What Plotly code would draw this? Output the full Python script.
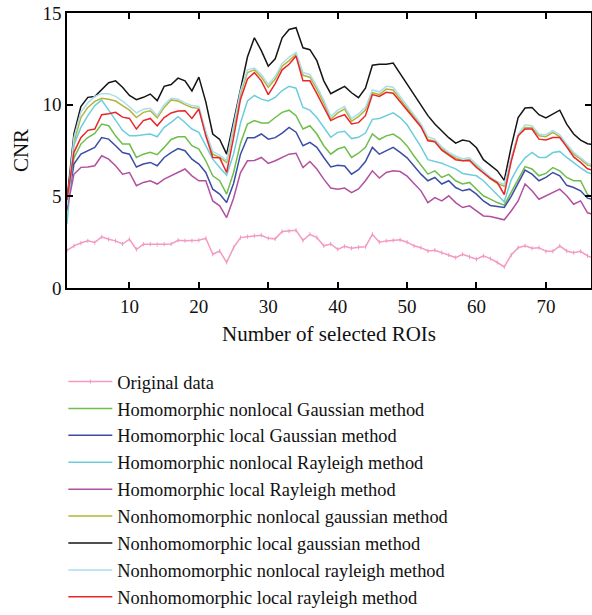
import plotly.graph_objects as go

x_roi = list(range(1, 78))

original = [2.05, 2.3, 2.45, 2.57, 2.48, 2.79, 2.66, 2.57, 2.4, 2.66,
            2.1, 2.39, 2.39, 2.37, 2.39, 2.4, 2.6, 2.58, 2.58, 2.6,
            2.71, 1.84, 2.02, 1.4, 2.2, 2.75, 2.8, 2.85, 2.88, 2.71,
            2.68, 3.08, 3.1, 3.15, 2.6, 2.93, 2.75, 2.3, 2.4, 2.11,
            2.27, 2.17, 2.22, 2.25, 2.93, 2.5, 2.57, 2.6, 2.63, 2.5,
            2.3, 2.2, 2.02, 2.06, 1.93, 1.8, 1.66, 1.84, 1.7, 1.57,
            1.75, 1.6, 1.39, 1.15, 1.8, 2.2, 2.3, 2.17, 2.2, 2.0,
            2.0, 2.3, 2.02, 1.93, 2.0, 1.75, 1.6]

h_nonlocal_gauss = [4.2, 7.1, 7.85, 8.21, 8.43, 8.94, 8.85, 8.3, 7.85, 7.85,
                    7.12, 7.3, 7.4, 7.27, 7.67, 8.1, 8.25, 8.25, 7.76, 7.58,
                    6.94, 6.12, 5.85, 5.12, 6.3, 7.9, 8.94, 9.13, 9.0, 9.0,
                    9.3, 9.58, 9.7, 9.4, 8.67, 8.85, 8.4, 7.76, 7.3, 7.58,
                    7.7, 7.12, 7.35, 7.67, 8.4, 8.1, 8.3, 8.4, 8.15, 7.75,
                    7.2, 6.7, 6.21, 6.39, 6.03, 6.2, 5.85, 5.67, 5.76, 5.39,
                    5.03, 4.85, 4.66, 4.52, 5.2, 5.9, 6.62, 6.49, 6.12, 6.25,
                    6.57, 6.39, 6.03, 5.85, 5.85, 5.1, 4.9]

h_local_gauss = [4.4, 6.76, 7.3, 7.49, 7.67, 8.21, 8.12, 7.76, 7.39, 7.3,
                 6.6, 6.76, 6.85, 6.67, 7.12, 7.39, 7.61, 7.49, 7.03, 6.76,
                 6.3, 5.39, 5.12, 4.66, 5.7, 7.3, 8.2, 8.2, 8.4, 8.12,
                 8.2, 8.45, 8.76, 8.5, 7.76, 7.94, 7.67, 7.12, 6.6, 6.7,
                 6.65, 6.21, 6.45, 6.9, 7.67, 7.3, 7.49, 7.67, 7.4, 7.1,
                 6.65, 6.21, 5.85, 6.03, 5.67, 5.85, 5.48, 5.3, 5.39, 5.12,
                 4.75, 4.5, 4.45, 4.39, 5.0, 5.7, 6.43, 6.21, 5.85, 6.03,
                 6.3, 6.12, 5.6, 5.48, 5.3, 4.9, 4.8]

h_nonlocal_rayl = [3.5, 7.8, 8.76, 9.4, 9.95, 10.25, 9.7, 9.13, 8.6, 8.3,
                   8.3, 8.36, 8.4, 8.25, 8.76, 9.03, 9.34, 9.03, 8.67, 8.49,
                   7.76, 7.03, 6.57, 6.15, 7.3, 9.0, 10.2, 10.5, 10.3, 10.2,
                   10.4, 10.77, 11.0, 10.9, 9.85, 9.7, 9.3, 8.73, 8.22, 8.49,
                   8.55, 8.15, 8.22, 8.45, 9.2, 9.25, 9.4, 9.55, 9.3, 8.9,
                   8.3, 7.7, 7.0, 6.9, 6.8, 6.65, 6.5, 6.25, 6.2, 6.12,
                   5.85, 5.45, 5.07, 4.7, 5.9, 6.6, 7.1, 7.4, 7.12, 7.12,
                   7.39, 7.45, 7.12, 6.82, 6.55, 6.3, 6.2]

h_local_rayl = [4.3, 6.2, 6.58, 6.6, 6.67, 7.21, 7.03, 6.67, 6.21, 6.3,
                5.58, 5.76, 5.85, 5.67, 5.94, 6.12, 6.3, 6.49, 6.12, 5.85,
                5.85, 4.75, 4.48, 3.84, 4.9, 6.3, 6.94, 6.96, 7.12, 6.8,
                6.94, 7.12, 7.3, 7.35, 6.57, 6.9, 6.49, 5.94, 5.45, 5.39,
                5.45, 5.2, 5.4, 5.85, 6.39, 6.0, 6.3, 6.39, 6.35, 6.1,
                5.7, 5.3, 4.66, 4.93, 4.75, 5.03, 4.66, 4.39, 4.48, 4.2,
                3.93, 3.9, 3.8, 3.72, 4.2, 4.75, 5.67, 5.3, 4.84, 5.03,
                5.21, 5.39, 5.03, 4.57, 4.75, 4.1, 4.0]

nh_nonlocal_gauss = [4.6, 7.95, 9.3, 9.85, 10.18, 10.35, 10.3, 10.2, 9.95, 9.7,
                     9.3, 9.58, 9.67, 9.28, 9.85, 10.26, 10.2, 10.0, 9.85, 9.8,
                     8.4, 7.3, 7.12, 6.85, 8.7, 10.6, 11.75, 11.9, 11.5, 10.95,
                     11.4, 12.1, 12.4, 12.75, 11.6, 11.5, 10.85, 10.1, 9.2, 9.55,
                     9.76, 9.1, 9.35, 9.7, 10.65, 10.55, 10.85, 10.8, 10.3, 9.8,
                     9.3, 8.85, 8.1, 8.0, 7.6, 7.3, 7.1, 6.95, 7.0, 6.65,
                     6.3, 5.95, 5.7, 5.55, 7.0, 8.3, 8.76, 8.74, 8.3, 8.25,
                     8.49, 8.25, 7.76, 7.3, 7.03, 6.7, 6.6]

nh_local_gauss = [4.8, 8.4, 9.9, 10.4, 10.45, 10.85, 11.2, 11.3, 10.95, 10.5,
                  10.27, 10.4, 10.58, 10.22, 11.0, 11.1, 11.45, 11.3, 10.75, 11.5,
                  10.15, 8.4, 8.1, 7.3, 9.1, 10.9, 12.6, 13.65, 12.95, 12.1,
                  12.5, 13.65, 14.1, 14.2, 13.1, 13.0, 12.4, 11.3, 10.6, 10.8,
                  11.0, 10.65, 10.38, 10.9, 12.15, 12.2, 12.2, 12.27, 11.7, 11.1,
                  10.5, 9.95, 9.4, 8.95, 8.55, 8.2, 7.9, 8.07, 8.0, 7.65,
                  7.0, 6.7, 6.4, 5.87, 7.7, 9.3, 9.82, 9.85, 9.45, 9.28,
                  9.47, 9.7, 8.94, 8.4, 8.07, 7.87, 7.8]

nh_nonlocal_rayl = [4.5, 8.2, 9.6, 10.1, 10.45, 10.6, 10.6, 10.45, 10.2, 9.9,
                    9.55, 9.75, 9.8, 9.4, 10.0, 10.35, 10.3, 10.1, 9.95, 9.9,
                    8.55, 7.45, 7.25, 6.95, 8.85, 10.75, 11.9, 12.0, 11.65, 11.1,
                    11.55, 12.25, 12.6, 12.85, 11.75, 11.65, 11.0, 10.25, 9.35, 9.7,
                    9.9, 9.25, 9.5, 9.85, 10.8, 10.7, 11.0, 10.95, 10.45, 9.95,
                    9.45, 8.95, 8.25, 8.1, 7.7, 7.4, 7.2, 7.05, 7.1, 6.75,
                    6.4, 6.05, 5.8, 5.65, 7.1, 8.4, 8.9, 8.85, 8.4, 8.35,
                    8.6, 8.35, 7.85, 7.4, 7.1, 6.8, 6.7]

nh_local_rayl = [4.8, 7.4, 8.2, 8.6, 8.67, 9.45, 9.5, 9.58, 9.32, 9.25,
                 8.67, 9.13, 9.25, 8.85, 9.3, 9.55, 9.65, 9.67, 9.25, 9.76,
                 8.3, 7.12, 7.1, 6.3, 8.2, 10.3, 11.4, 11.75, 11.3, 10.55,
                 11.15, 11.9, 12.2, 12.65, 11.3, 11.3, 10.6, 9.85, 9.13, 9.32,
                 9.45, 8.95, 9.02, 9.4, 10.55, 10.45, 10.67, 10.62, 10.15, 9.7,
                 9.2, 8.78, 8.03, 7.98, 7.52, 7.25, 7.0, 6.94, 6.95, 6.57,
                 6.25, 5.98, 5.75, 5.1, 6.9, 8.3, 8.67, 8.67, 8.12, 8.07,
                 8.21, 8.21, 7.7, 7.15, 6.85, 6.5, 6.4]

series_names = [
    "Original data",
    "Homomorphic nonlocal Gaussian method",
    "Homomorphic local Gaussian method",
    "Homomorphic nonlocal Rayleigh method",
    "Homomorphic local Rayleigh method",
    "Nonhomomorphic nonlocal gaussian method",
    "Nonhomomorphic local gaussian method",
    "Nonhomomorphic nonlocal rayleigh method",
    "Nonhomomorphic local rayleigh method",
]
series_values = [original, h_nonlocal_gauss, h_local_gauss, h_nonlocal_rayl,
                 h_local_rayl, nh_nonlocal_gauss, nh_local_gauss,
                 nh_nonlocal_rayl, nh_local_rayl]
series_colors = ["#F39AC2", "#6DBE4B", "#3B4DA6", "#6CCEDD", "#B2509F",
                 "#B4B535", "#151515", "#AADDF0", "#E8262B"]

fig = go.Figure()
for name, vals, col in zip(series_names, series_values, series_colors):
    is_orig = name == "Original data"
    fig.add_trace(go.Scatter(
        x=x_roi, y=vals, name=name,
        mode="lines+markers" if is_orig else "lines",
        line=dict(color=col, width=1.5),
        marker=dict(size=3, color=col, symbol="line-ns", line=dict(width=1, color=col)) if is_orig else None,
    ))

FONT = "Liberation Serif"
fig.update_layout(
    width=592, height=615,
    margin=dict(l=67, r=1, t=13, b=327, autoexpand=False),
    plot_bgcolor="white", paper_bgcolor="white",
    font=dict(family=FONT, size=19, color="#111"),
    showlegend=True,
    legend=dict(
        x=-0.007, xanchor="left",
        yref="container", y=1 - 363 / 615, yanchor="top",
        font=dict(family=FONT, size=18.4, color="#111"),
        bgcolor="rgba(0,0,0,0)", tracegroupgap=0, itemwidth=44,
    ),
)
fig.update_xaxes(
    range=[1, 76.5], dtick=10, tick0=0,
    showline=True, linecolor="black", linewidth=1.5, mirror="ticks",
    ticks="inside", ticklen=6, tickwidth=2, tickcolor="black",
    showgrid=False, zeroline=False,
    tickfont=dict(family=FONT, size=19),
    title=dict(text="Number of selected ROIs", font=dict(family=FONT, size=21), standoff=11),
)
fig.update_yaxes(
    range=[0, 15], dtick=5,
    showline=True, linecolor="black", linewidth=1.5, mirror="ticks",
    ticks="inside", ticklen=6, tickwidth=2, tickcolor="black",
    showgrid=False, zeroline=False,
    tickfont=dict(family=FONT, size=19),
    title=dict(text="CNR", font=dict(family=FONT, size=21), standoff=8),
)

fig.write_html("out.html")
